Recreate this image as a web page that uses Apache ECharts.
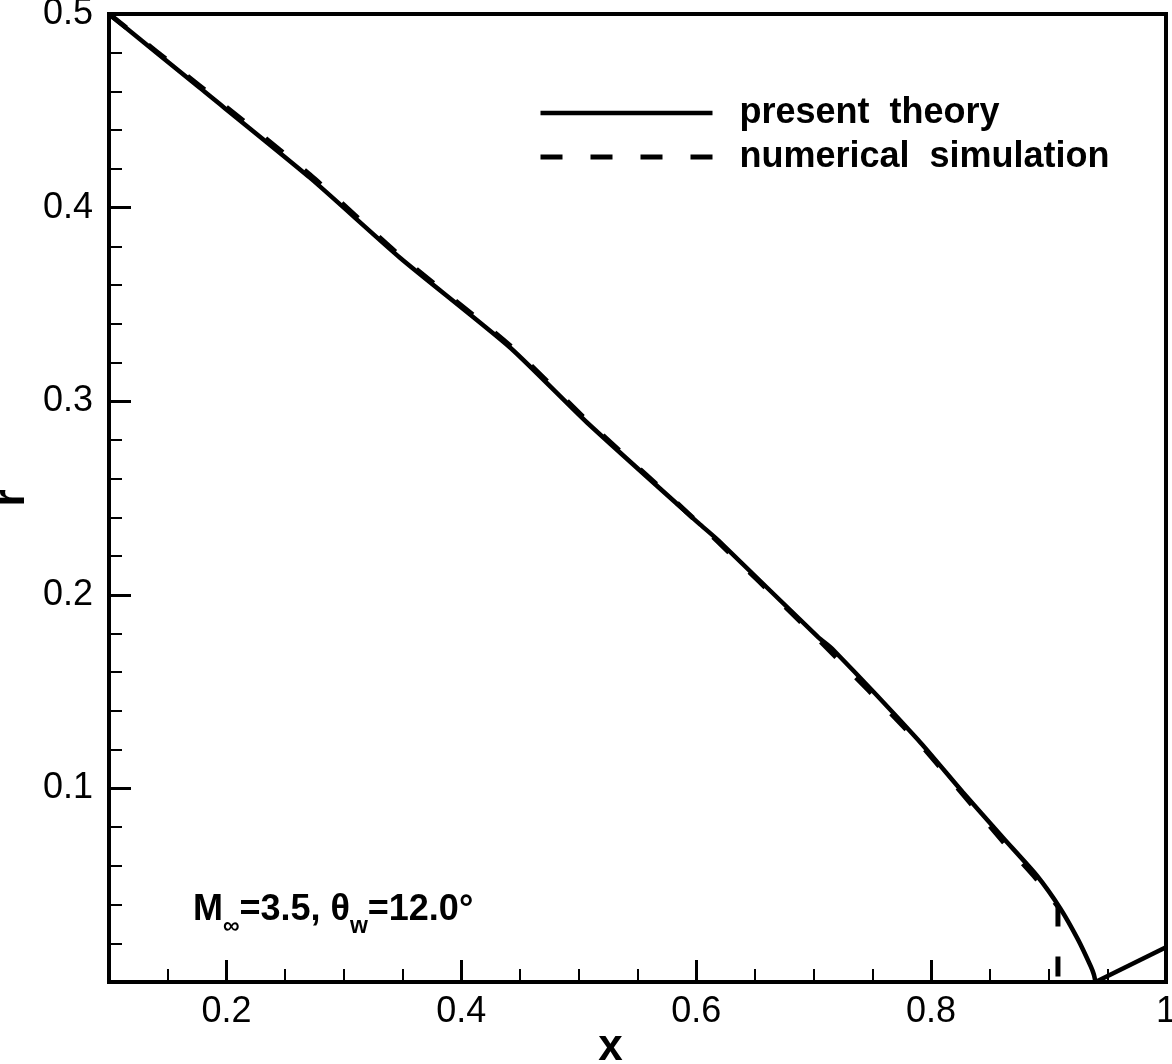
<!DOCTYPE html>
<html>
<head>
<meta charset="utf-8">
<script src="https://cdn.jsdelivr.net/npm/echarts@6/dist/echarts.min.js"></script>
<style>
html,body{margin:0;padding:0;background:#fff;}
#chart{width:1172px;height:1064px;}
</style>
</head>
<body>
<div id="chart"></div>
<script>
// ---- data ----
const theoryX = [0.1, 0.177, 0.271, 0.348, 0.441, 0.507, 0.602, 0.619, 0.704, 0.716, 0.789, 0.827, 0.862, 0.890, 0.910, 0.925, 0.936, 0.9385, 0.940];
const theoryR = [0.5, 0.462, 0.4155, 0.374, 0.328, 0.289, 0.237, 0.228, 0.178, 0.172, 0.125, 0.098, 0.074, 0.055, 0.038, 0.022, 0.008, 0.004, 0.0];
const bodyX = [0.940, 1.0];
const bodyR = [0.0, 0.018];
const simX = [0.1, 0.177, 0.271, 0.348, 0.441, 0.507, 0.602, 0.704, 0.789, 0.827, 0.862, 0.890, 0.908];
const simR = [0.5, 0.463, 0.417, 0.375, 0.329, 0.290, 0.237, 0.177, 0.124, 0.097, 0.072, 0.053, 0.039];
const simEndX = [0.908, 0.908];
const simEndR = [0.039, 0.0];
const seriesNames = ['present  theory', 'numerical  simulation'];
const xMajorTicks = [0.2, 0.4, 0.6, 0.8, 1.0];
const xMinorTicks = [0.15, 0.25, 0.3, 0.35, 0.45, 0.5, 0.55, 0.65, 0.7, 0.75, 0.85, 0.9, 0.95];
const yMajorTicks = [0.1, 0.2, 0.3, 0.4, 0.5];
const yMinorTicks = [0.02, 0.04, 0.06, 0.08, 0.12, 0.14, 0.16, 0.18, 0.22, 0.24, 0.26, 0.28, 0.32, 0.34, 0.36, 0.38, 0.42, 0.44, 0.46, 0.48];

const FONT = '"Liberation Sans", Arial, Helvetica, sans-serif';
const zip = (a, b) => a.map((v, i) => [v, b[i]]);
const solidStyle = {color: '#000', width: 4.5, type: 'solid'};
const dashStyle = {color: '#000', width: 5, type: [22, 28]};

const chart = echarts.init(document.getElementById('chart'), null, {renderer: 'canvas'});
const option = {
  backgroundColor: '#fff',
  animation: false,
  grid: {left: 109, top: 14, right: 6, bottom: 82, containLabel: false, outerBoundsMode: 'none',
    show: true, borderColor: '#000', borderWidth: 4, backgroundColor: 'transparent'},
  legend: {
    orient: 'vertical', left: 533, top: 86, itemGap: 0,
    itemWidth: 172, itemHeight: 14,
    itemStyle: {opacity: 0},
    data: [
      {name: seriesNames[0], lineStyle: solidStyle},
      {name: seriesNames[1], lineStyle: dashStyle}
    ],
    textStyle: {fontFamily: FONT, fontSize: 36, fontWeight: 'bold', color: '#000', lineHeight: 44, padding: [0, 0, 0, 22]}
  },
  xAxis: [{
    type: 'value', min: 0.1, max: 1.0, position: 'bottom',
    name: 'x', nameLocation: 'middle', nameGap: 44, nameMoveOverlap: false,
    nameTextStyle: {fontFamily: FONT, fontSize: 44, fontWeight: 'bold', color: '#000', padding: [0, 54, 0, 0]},
    axisLine: {show: true, lineStyle: {color: '#000', width: 4}},
    axisTick: {show: true, inside: true, length: 22, lineStyle: {color: '#000', width: 3}, customValues: xMajorTicks},
    axisLabel: {show: true, margin: 12, fontFamily: FONT, fontSize: 36, color: '#000', customValues: xMajorTicks},
    splitLine: {show: false}
  }, {
    type: 'value', min: 0.1, max: 1.0, position: 'bottom', gridIndex: 0,
    axisLine: {show: false},
    axisTick: {show: true, inside: true, length: 13, lineStyle: {color: '#000', width: 2}, customValues: xMinorTicks},
    axisLabel: {show: false},
    splitLine: {show: false}
  }],
  yAxis: [{
    type: 'value', min: 0, max: 0.5, position: 'left',
    name: 'r', nameLocation: 'middle', nameGap: 75, nameRotate: 90, nameMoveOverlap: false,
    nameTextStyle: {fontFamily: FONT, fontSize: 44, fontWeight: 'bold', color: '#000'},
    axisLine: {show: true, lineStyle: {color: '#000', width: 4}},
    axisTick: {show: true, inside: true, length: 22, lineStyle: {color: '#000', width: 3}, customValues: yMajorTicks},
    axisLabel: {show: true, margin: 16, fontFamily: FONT, fontSize: 36, color: '#000', customValues: yMajorTicks},
    splitLine: {show: false}
  }, {
    type: 'value', min: 0, max: 0.5, position: 'left', gridIndex: 0,
    axisLine: {show: false},
    axisTick: {show: true, inside: true, length: 13, lineStyle: {color: '#000', width: 2}, customValues: yMinorTicks},
    axisLabel: {show: false},
    splitLine: {show: false}
  }],
  series: [{
    name: seriesNames[0], type: 'line', xAxisIndex: 0, yAxisIndex: 0,
    data: zip(theoryX, theoryR), symbol: 'none', smooth: 0.2,
    lineStyle: solidStyle, itemStyle: {color: '#000'}
  }, {
    name: seriesNames[0], type: 'line', xAxisIndex: 0, yAxisIndex: 0,
    data: zip(bodyX, bodyR), symbol: 'none', smooth: false,
    lineStyle: solidStyle, itemStyle: {color: '#000'}
  }, {
    name: seriesNames[1], type: 'line', xAxisIndex: 0, yAxisIndex: 0,
    data: zip(simX, simR), symbol: 'none', smooth: 0.2,
    lineStyle: dashStyle, itemStyle: {color: '#000'}
  }, {
    name: seriesNames[1], type: 'line', xAxisIndex: 0, yAxisIndex: 0,
    data: zip(simEndX, simEndR), symbol: 'none', smooth: false,
    lineStyle: {color: '#000', width: 5, type: [20, 30]}, itemStyle: {color: '#000'}
  }],
  graphic: [{
    type: 'text', left: 193, top: 892,
    style: {
      text: '{b|M}{s|∞}{b|=3.5, θ}{s|w}{b|=12.0°}',
      rich: {
        b: {fontFamily: FONT, fontSize: 36, fontWeight: 'bold', fill: '#000', verticalAlign: 'bottom', lineHeight: 42},
        s: {fontFamily: FONT, fontSize: 23, fontWeight: 'bold', fill: '#000', verticalAlign: 'bottom', lineHeight: 42, padding: [0, 0, -10, 0]}
      }
    }
  }]
};
chart.setOption(option);
</script>
</body>
</html>
